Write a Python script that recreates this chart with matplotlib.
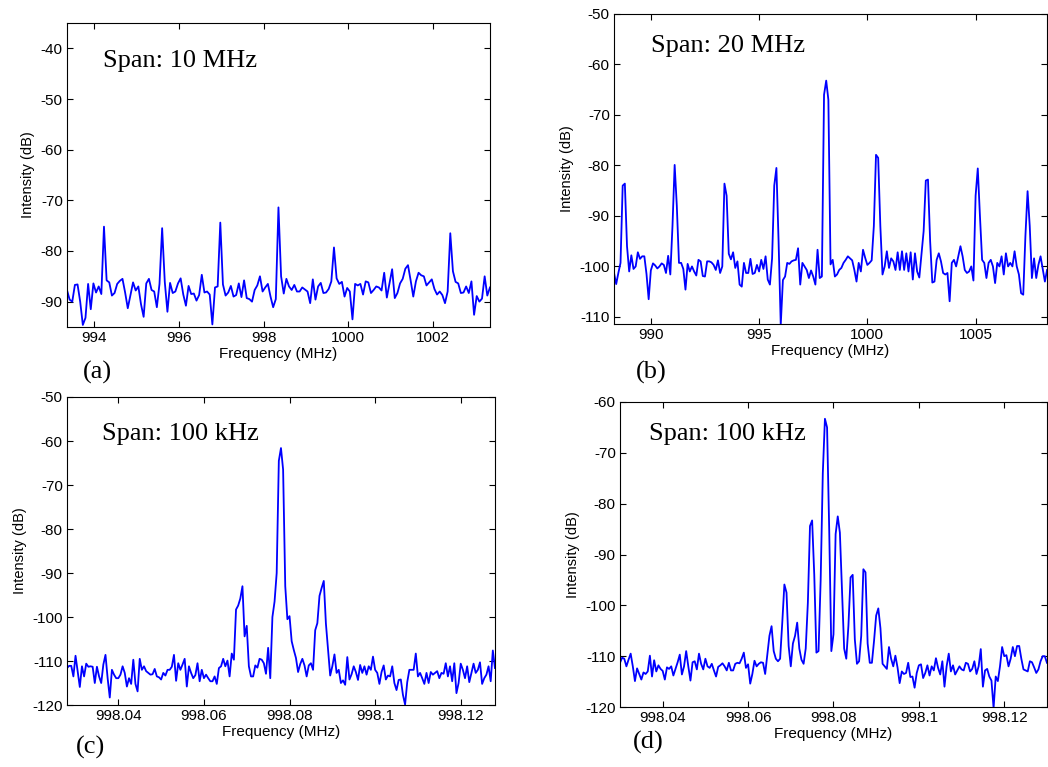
import matplotlib
matplotlib.use('Agg')
import matplotlib.pyplot as plt
import numpy as np

plt.rcParams['font.family'] = ['Liberation Sans', 'DejaVu Sans']
plt.rcParams['axes.unicode_minus'] = False

# ---- data (dB), evenly spaced sweep points ----
span_a = (993.35, 1003.35)
level_a = [
    -87.7, -89.6, -90.0, -86.7, -86.6, -90.0, -94.6, -93.2, -86.5, -91.5,
    -86.4, -88.2, -87.0, -88.5, -75.2, -85.8, -86.2, -88.8, -88.3, -86.5,
    -85.9, -85.5, -88.2, -91.3, -88.7, -86.2, -87.8, -87.0, -90.5, -93.0,
    -86.4, -85.5, -87.7, -88.0, -91.1, -86.5, -75.5, -86.1, -92.0, -86.3,
    -88.3, -88.0, -86.4, -85.4, -88.6, -90.8, -86.9, -88.5, -88.4, -89.8,
    -88.7, -84.7, -88.2, -88.0, -88.6, -94.5, -87.2, -87.0, -74.4, -86.6,
    -88.8, -88.2, -86.9, -89.0, -88.7, -86.4, -89.1, -85.8, -89.3, -89.5,
    -90.0, -87.7, -86.8, -85.0, -88.0, -87.2, -86.5, -89.0, -91.1, -89.5,
    -71.4, -85.0, -88.4, -85.5, -87.0, -87.7, -86.7, -88.0, -88.0, -87.2,
    -87.6, -88.0, -90.3, -85.6, -89.6, -87.0, -86.3, -88.3, -88.2, -87.5,
    -86.0, -79.3, -85.4, -86.5, -86.1, -89.0, -87.3, -88.0, -93.5, -86.5,
    -86.8, -86.5, -88.6, -86.0, -86.2, -88.3, -87.7, -87.0, -87.2, -87.8,
    -84.3, -89.2, -86.4, -83.6, -89.3, -88.3, -86.4, -85.5, -83.5, -82.8,
    -85.8, -89.0, -86.0, -84.3, -84.8, -85.0, -86.8, -86.2, -85.6, -87.5,
    -88.6, -88.0, -88.7, -90.3, -88.0, -76.5, -84.0, -86.1, -86.4, -88.3,
    -88.2, -87.0, -88.3, -86.0, -92.6, -88.9, -90.0, -89.4, -85.0, -88.8,
    -87.2,
]

span_b = (988.3, 1008.3)
level_b = [
    -101.3, -103.5, -101.3, -99.3, -84.0, -83.6, -96.0, -101.0, -97.8, -100.5,
    -100.0, -97.2, -98.5, -98.0, -98.0, -101.5, -106.5, -100.8, -99.4, -99.8,
    -100.4, -100.0, -99.4, -99.7, -101.3, -97.9, -101.6, -92.0, -79.9, -88.0,
    -99.3, -99.3, -100.5, -104.6, -99.5, -101.0, -100.0, -101.0, -101.8, -98.7,
    -99.0, -101.9, -102.0, -99.0, -99.0, -99.2, -99.7, -100.7, -98.8, -101.3,
    -100.0, -83.6, -86.0, -97.5, -98.6, -97.2, -100.3, -99.0, -103.6, -104.0,
    -99.3, -101.3, -101.3, -98.5, -101.5, -101.3, -99.7, -101.0, -98.7, -100.5,
    -98.0, -102.6, -103.6, -98.4, -84.0, -80.5, -95.0, -111.6, -102.7, -102.0,
    -99.3, -99.5, -99.0, -98.8, -98.7, -96.4, -103.6, -99.3, -100.0, -100.7,
    -102.3, -100.8, -102.0, -103.6, -96.7, -102.3, -102.0, -66.0, -63.2, -67.0,
    -99.6, -98.7, -102.0, -101.6, -100.7, -100.3, -99.3, -98.7, -98.0, -98.4,
    -98.8, -100.7, -103.0, -99.3, -101.0, -96.7, -98.3, -99.7, -99.3, -98.8,
    -92.0, -77.9, -78.5, -92.0, -101.6, -100.0, -97.0, -100.3, -98.4, -99.0,
    -100.7, -97.2, -100.7, -97.0, -100.7, -97.4, -101.0, -97.2, -102.6, -97.4,
    -101.0, -102.2, -97.5, -93.0, -83.0, -82.8, -95.0, -103.2, -103.0, -98.7,
    -97.4, -99.0, -101.3, -101.6, -101.3, -106.9, -99.3, -98.7, -100.0, -98.0,
    -96.0, -98.0, -100.7, -101.3, -101.0, -100.0, -102.8, -86.0, -80.6, -90.0,
    -98.7, -99.3, -102.3, -99.3, -98.7, -100.0, -103.3, -99.3, -100.0, -98.0,
    -101.6, -97.4, -100.0, -99.3, -100.0, -97.0, -100.0, -101.6, -105.3, -105.6,
    -94.0, -85.1, -92.0, -102.3, -98.4, -102.3, -99.7, -98.0, -100.5, -103.0,
    -100.7,
]

span_c = (998.028, 998.128)
level_c = [
    -111.6, -111.1, -111.1, -113.5, -108.8, -112.3, -115.9, -111.2, -113.5, -110.6,
    -111.3, -111.2, -111.3, -115.0, -111.3, -113.5, -115.0, -110.8, -108.6, -113.9,
    -118.3, -112.0, -113.1, -113.9, -113.9, -113.1, -111.2, -112.7, -115.8, -113.9,
    -115.2, -109.7, -115.2, -116.9, -109.5, -112.0, -111.2, -112.3, -112.7, -113.1,
    -113.0, -111.8, -113.5, -113.7, -114.2, -112.7, -113.3, -112.0, -112.0, -111.3,
    -108.6, -114.5, -110.5, -112.0, -110.8, -109.5, -115.8, -111.2, -112.7, -113.9,
    -113.2, -110.5, -114.6, -112.0, -113.9, -113.1, -113.9, -114.6, -114.6, -113.5,
    -115.2, -111.6, -111.2, -109.5, -111.2, -109.9, -113.5, -108.3, -109.7, -98.3,
    -97.4, -95.8, -93.0, -104.4, -102.0, -111.2, -113.5, -113.5, -111.0, -111.5,
    -109.5, -109.7, -110.5, -112.9, -107.0, -113.9, -100.0, -96.5, -90.0, -64.5,
    -61.6, -66.5, -93.0, -100.5, -99.8, -105.5, -107.5, -109.3, -112.5, -110.7,
    -109.5, -111.0, -113.5, -111.0, -110.5, -112.0, -103.0, -101.4, -95.2, -93.4,
    -91.8, -101.5, -107.5, -113.3, -111.2, -108.5, -112.7, -112.0, -115.0, -114.4,
    -115.4, -109.1, -114.2, -113.0, -111.2, -112.5, -114.3, -110.9, -112.7, -111.2,
    -113.1, -111.2, -112.0, -109.0, -112.0, -112.7, -115.2, -112.5, -111.0, -114.2,
    -113.3, -113.5, -111.2, -115.0, -116.6, -114.3, -114.2, -117.7, -119.9, -114.8,
    -112.0, -112.0, -112.0, -108.3, -113.5, -112.7, -113.9, -115.2, -112.7, -115.0,
    -112.5, -113.1, -112.7, -112.3, -113.9, -112.7, -112.9, -110.5, -113.5, -111.2,
    -114.6, -110.5, -117.3, -115.0, -110.6, -112.0, -113.9, -111.2, -114.8, -112.7,
    -110.6, -112.7, -112.0, -110.3, -115.2, -113.9, -113.1, -111.2, -114.6, -107.6,
    -111.6,
]

span_d = (998.030, 998.130)
level_d = [
    -111.3, -110.3, -110.5, -112.0, -110.7, -109.5, -112.0, -114.9, -112.4, -113.5,
    -114.6, -113.2, -113.5, -113.0, -109.9, -114.0, -110.8, -113.0, -111.8, -112.5,
    -112.9, -114.6, -112.2, -112.5, -112.0, -113.8, -112.5, -111.2, -109.7, -113.6,
    -112.0, -109.0, -112.0, -114.8, -111.2, -111.0, -112.6, -109.5, -111.5, -112.6,
    -110.5, -112.0, -112.3, -111.5, -112.8, -114.0, -112.1, -111.8, -111.4, -112.0,
    -112.8, -111.3, -112.8, -112.8, -111.5, -111.3, -111.4, -110.5, -109.3, -112.3,
    -111.6, -115.4, -113.5, -110.9, -112.0, -111.5, -111.2, -111.3, -113.5, -109.7,
    -106.0, -104.1, -109.0, -110.5, -111.0, -110.5, -103.5, -95.9, -97.5, -108.0,
    -112.0, -107.5, -106.0, -103.4, -108.5, -110.7, -111.5, -108.5, -99.5, -84.4,
    -83.3, -94.0, -109.3, -109.0, -95.0, -74.0, -63.3, -65.0, -85.1, -109.0,
    -105.7, -86.0, -82.5, -85.7, -97.0, -108.5, -110.5, -104.0, -94.5, -94.0,
    -106.7, -111.5, -111.0, -106.0, -92.9, -93.5, -107.5, -111.3, -111.3, -107.0,
    -102.0, -100.6, -104.5, -111.5, -112.0, -112.5, -108.2, -110.5, -112.0, -109.9,
    -112.2, -115.3, -113.0, -113.5, -113.3, -111.3, -114.1, -114.0, -116.2, -113.3,
    -111.8, -111.6, -114.3, -113.3, -111.8, -113.8, -112.0, -112.8, -110.4, -112.3,
    -113.6, -111.0, -116.0, -112.0, -109.5, -113.0, -111.8, -113.6, -112.8, -112.0,
    -112.6, -112.8, -111.3, -111.5, -113.0, -112.5, -111.0, -113.5, -112.0, -108.6,
    -116.0, -112.8, -112.5, -114.0, -114.8, -120.2, -114.0, -114.9, -112.0, -108.2,
    -110.0, -109.8, -112.0, -110.5, -108.2, -110.0, -108.0, -108.0, -110.5, -112.6,
    -112.8, -113.0, -111.0, -111.2, -112.2, -113.3, -112.6, -111.0, -110.0, -110.0,
    -111.3,
]

span_labels = ['Span: 10 MHz', 'Span: 20 MHz', 'Span: 100 kHz', 'Span: 100 kHz']
panel_labels = ['(a)', '(b)', '(c)', '(d)']

xticks_a = [994, 996, 998, 1000, 1002]
xticks_b = [990, 995, 1000, 1005]
xticks_cd = [998.04, 998.06, 998.08, 998.1, 998.12]
xticklabels_cd = ['998.04', '998.06', '998.08', '998.1', '998.12']

fig = plt.figure(figsize=(10.48, 7.67), dpi=100)

# axes rectangles
rects = [
    [0.0639, 0.5737, 0.4036, 0.3963],
    [0.5859, 0.5776, 0.4132, 0.4042],
    [0.0639, 0.0808, 0.4084, 0.4016],
    [0.5916, 0.0782, 0.4074, 0.3977],
]
spans = [span_a, span_b, span_c, span_d]
levels = [level_a, level_b, level_c, level_d]
ylims = [(-95, -35), (-111.4, -50), (-120, -50), (-120, -60)]
yticks = [np.arange(-90, -39, 10), np.arange(-110, -49, 10),
          np.arange(-120, -49, 10), np.arange(-120, -59, 10)]
text_pos = [(0.085, 0.855), (0.085, 0.877), (0.082, 0.860), (0.068, 0.875)]
label_pos = [(0.079, 0.514), (0.607, 0.514), (0.072, 0.025), (0.604, 0.032)]

for k in range(4):
    ax = fig.add_axes(rects[k])
    lv = np.array(levels[k])
    f = np.linspace(spans[k][0], spans[k][1], len(lv))
    ax.plot(f, lv, color='#0000ff', lw=1.3)
    ax.set_xlim(spans[k])
    ax.set_ylim(ylims[k])
    ax.set_yticks(yticks[k])
    ax.set_yticklabels([str(int(v)) for v in yticks[k]])
    if k == 0:
        ax.set_xticks(xticks_a)
        ax.set_xticklabels([str(v) for v in xticks_a])
    elif k == 1:
        ax.set_xticks(xticks_b)
        ax.set_xticklabels([str(v) for v in xticks_b])
    else:
        ax.set_xticks(xticks_cd)
        ax.set_xticklabels(xticklabels_cd)
    ax.tick_params(direction='in', top=True, right=True, length=4,
                   labelsize=11, pad=3)
    ax.set_xlabel('Frequency (MHz)', fontsize=11, labelpad=1)
    ax.set_ylabel('Intensity (dB)', fontsize=10.5, labelpad=4)
    ax.text(text_pos[k][0], text_pos[k][1], span_labels[k],
            transform=ax.transAxes, fontsize=19, family='Liberation Serif',
            va='baseline', ha='left')
    fig.text(label_pos[k][0], label_pos[k][1], panel_labels[k],
             fontsize=19, family='Liberation Serif', va='center', ha='left')

plt.savefig('out.png', dpi=100)
